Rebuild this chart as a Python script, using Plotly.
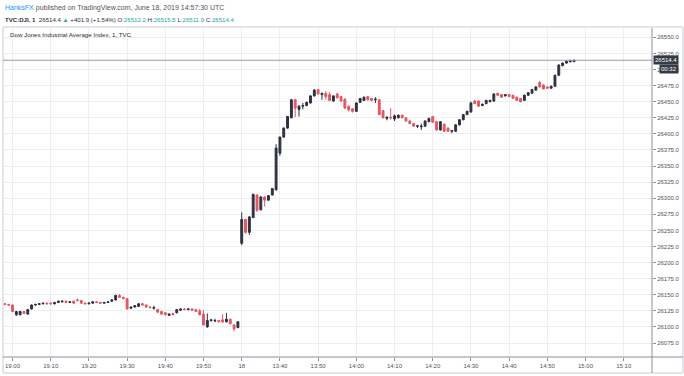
import plotly.graph_objects as go

# ---------------- data ----------------
def minute_labels(start, end):
    h, m = map(int, start.split(":"))
    eh, em = map(int, end.split(":"))
    out, t = [], h * 60 + m
    while t <= eh * 60 + em:
        out.append(f"{t // 60:02d}:{t % 60:02d}")
        t += 1
    return out

times = minute_labels("18:58", "19:59") + minute_labels("13:30", "14:57")

prev_open = [26136, 26135, 26134, 26119, 26119, 26124, 26120, 26128, 26134, 26135,
             26136, 26137, 26137, 26136, 26138, 26139, 26140, 26138, 26140, 26142,
             26141, 26137, 26136, 26137, 26139, 26138, 26137, 26138, 26140, 26142,
             26149, 26146, 26144, 26129, 26131, 26132, 26136, 26134, 26131, 26129,
             26127, 26124, 26122, 26118, 26121, 26122, 26126, 26128, 26127, 26128,
             26127, 26125, 26120, 26100, 26110, 26109, 26110, 26111, 26108, 26112,
             26103, 26099]
prev_high = [26137, 26136, 26135, 26125, 26125, 26125, 26128, 26135, 26136, 26137,
             26137, 26138, 26138, 26139, 26141, 26141, 26141, 26140, 26141, 26144,
             26142, 26138, 26138, 26140, 26140, 26139, 26139, 26140, 26143, 26150,
             26151, 26147, 26145, 26131, 26134, 26137, 26137, 26135, 26132, 26133,
             26128, 26125, 26123, 26121, 26122, 26127, 26128, 26129, 26128, 26129,
             26128, 26128, 26126, 26121, 26111, 26113, 26111, 26120, 26122, 26113,
             26104, 26109]
prev_low = [26134, 26133, 26123, 26117, 26118, 26120, 26119, 26127, 26133, 26134,
            26135, 26135, 26135, 26135, 26137, 26138, 26137, 26137, 26136, 26140,
            26136, 26135, 26135, 26136, 26137, 26136, 26136, 26138, 26139, 26141,
            26145, 26143, 26127, 26128, 26130, 26131, 26133, 26130, 26129, 26127,
            26122, 26119, 26118, 26117, 26118, 26121, 26125, 26126, 26126, 26126,
            26123, 26118, 26102, 26099, 26108, 26108, 26107, 26106, 26107, 26104,
            26093, 26098]
prev_close = [26135, 26134, 26124, 26124, 26124, 26121, 26127, 26134, 26135, 26136,
              26137, 26136, 26136, 26138, 26140, 26140, 26138, 26139, 26137, 26141,
              26137, 26136, 26137, 26139, 26138, 26137, 26138, 26139, 26142, 26149,
              26146, 26144, 26128, 26131, 26133, 26136, 26134, 26131, 26130, 26130,
              26123, 26120, 26119, 26120, 26119, 26127, 26128, 26127, 26128, 26126,
              26124, 26119, 26103, 26110, 26111, 26110, 26108, 26108, 26112, 26105,
              26097, 26108]

today_open = [26230, 26267, 26247, 26270, 26305, 26282, 26302, 26297, 26305, 26313,
              26370, 26395, 26409, 26425, 26453, 26438, 26443, 26444, 26448, 26459,
              26469, 26461, 26463, 26461, 26451, 26462, 26458, 26454, 26443, 26439,
              26435, 26449, 26452, 26458, 26455, 26453, 26453, 26436, 26424, 26426,
              26423, 26425, 26429, 26425, 26420, 26416, 26412, 26411, 26412, 26419,
              26427, 26419, 26406, 26415, 26409, 26404, 26404, 26414, 26422, 26430,
              26434, 26451, 26451, 26444, 26447, 26450, 26451, 26463, 26461, 26459,
              26461, 26460, 26457, 26455, 26452, 26460, 26463, 26468, 26480, 26476,
              26473, 26471, 26474, 26491, 26506, 26510, 26512, 26512.2]
today_high = [26278, 26268, 26272, 26307, 26306, 26303, 26303, 26305, 26316, 26384,
              26396, 26410, 26428, 26454, 26454, 26445, 26448, 26450, 26460, 26470,
              26470, 26464, 26466, 26465, 26460, 26464, 26459, 26455, 26444, 26440,
              26449, 26456, 26458, 26459, 26456, 26457, 26454, 26437, 26427, 26440,
              26430, 26430, 26430, 26426, 26421, 26417, 26414, 26416, 26421, 26425,
              26428, 26420, 26420, 26416, 26410, 26406, 26415, 26423, 26431, 26436,
              26450, 26453, 26452, 26447, 26453, 26453, 26463, 26464, 26462, 26461,
              26462, 26461, 26458, 26456, 26461, 26465, 26470, 26474, 26482, 26477,
              26474, 26475, 26492, 26508, 26511, 26514, 26515, 26515.5]
today_low = [26227, 26245, 26243, 26269, 26279, 26281, 26287, 26296, 26304, 26312,
             26366, 26394, 26408, 26424, 26426, 26427, 26438, 26443, 26447, 26458,
             26461, 26453, 26453, 26451, 26450, 26455, 26450, 26439, 26435, 26433,
             26434, 26448, 26451, 26452, 26451, 26448, 26429, 26424, 26421, 26422,
             26420, 26424, 26424, 26419, 26415, 26411, 26409, 26406, 26411, 26418,
             26417, 26405, 26405, 26403, 26403, 26401, 26403, 26413, 26421, 26429,
             26433, 26446, 26442, 26443, 26446, 26449, 26450, 26459, 26456, 26458,
             26457, 26454, 26451, 26449, 26451, 26459, 26462, 26467, 26472, 26469,
             26470, 26470, 26473, 26490, 26505, 26509, 26511, 26511.9]
today_close = [26267, 26247, 26271, 26306, 26281, 26302, 26297, 26304, 26315, 26378,
               26395, 26409, 26427, 26453, 26440, 26443, 26444, 26449, 26459, 26468,
               26462, 26463, 26458, 26452, 26459, 26456, 26451, 26440, 26437, 26435,
               26448, 26455, 26457, 26453, 26452, 26454, 26430, 26425, 26426, 26425,
               26428, 26429, 26425, 26420, 26416, 26412, 26412.5, 26412, 26420, 26424,
               26418, 26406, 26419, 26404, 26404, 26405, 26414, 26422, 26430, 26435,
               26448, 26447, 26443, 26446, 26452, 26452, 26462, 26460, 26457, 26461,
               26458, 26455, 26452, 26450, 26460, 26464, 26469, 26473, 26473, 26470,
               26471, 26474, 26491, 26507, 26510, 26513, 26514, 26514.4]

opens = prev_open + today_open
highs = prev_high + today_high
lows = prev_low + today_low
closes = prev_close + today_close

tick_times = ["19:00", "19:10", "19:20", "19:30", "19:40", "19:50", "13:30",
              "13:40", "13:50", "14:00", "14:10", "14:20", "14:30", "14:40",
              "14:50", "15:00", "15:10"]
tick_text = ["19:00", "19:10", "19:20", "19:30", "19:40", "19:50", "18",
             "13:40", "13:50", "14:00", "14:10", "14:20", "14:30", "14:40",
             "14:50", "15:00", "15:10"]
change_text = "+401.9 (+1.54%)"

# ---------------- helpers ----------------
def to_min(t):
    h, m = map(int, t.split(":"))
    return h * 60 + m

def tick_pos(t):
    if t in times:
        return times.index(t)
    return len(times) - 1 + (to_min(t) - to_min(times[-1]))

x_idx = list(range(len(times)))
tick_vals = [tick_pos(t) for t in tick_times]

W, H = 684, 376
L, R, T, B = 3, 652, 28, 357
PW, PH = R - L, B - T
def px(x):
    return (x - L) / PW
def py(y):
    return (B - y) / PH

UP = "#2e3140"
DN = "#e5575f"
GREEN = "#27a59a"
FONT = "Liberation Sans, Arial, sans-serif"

fig = go.Figure()
fig.add_trace(go.Candlestick(
    x=x_idx, open=opens, high=highs, low=lows, close=closes,
    increasing=dict(line=dict(color=UP, width=1), fillcolor=UP),
    decreasing=dict(line=dict(color=DN, width=1), fillcolor=DN),
    whiskerwidth=0, showlegend=False, hoverinfo="skip",
))

last = closes[-1]
fig.add_shape(type="line", xref="paper", yref="y", x0=0, x1=1, y0=last, y1=last,
              line=dict(color="#9a9ca3", width=1))
# frame lines
frame = "#c9cbd0"
fig.add_shape(type="rect", xref="paper", yref="paper", x0=0, x1=px(683),
              y0=py(373), y1=py(27), line=dict(color=frame, width=1), layer="below")
fig.add_shape(type="line", xref="paper", yref="paper", x0=1, x1=1, y0=py(373), y1=1,
              line=dict(color="#8e9095", width=1))
fig.add_shape(type="line", xref="paper", yref="paper", x0=0, x1=px(683), y0=0, y1=0,
              line=dict(color="#8e9095", width=1))

o, h, l, c = today_open[-1], today_high[-1], today_low[-1], today_close[-1]
g = lambda v: f"<span style='color:{GREEN}'>{v:.1f}</span>"
header2 = (f"<b>TVC:DJI, 1</b>  {c:.1f} <span style='color:{GREEN}'>▲</span> {change_text} "
           f"O:{g(o)} H:{g(h)} L:{g(l)} C:{g(c)}")

annos = [
    dict(text="<span style='color:#2196f3'>HanksFX</span> published on TradingView.com, June 18, 2019 14:57:30 UTC",
         x=px(3), y=py(8.5), font=dict(size=7, color="#50535e")),
    dict(text=header2, x=px(3), y=py(19.5), font=dict(size=6.1, color="#2a2e39")),
    dict(text="Dow Jones Industrial Average Index, 1, TVC", x=px(8), y=py(34.5),
         font=dict(size=6.2, color="#2a2e39")),
]
for a in annos:
    fig.add_annotation(xref="paper", yref="paper", xanchor="left", yanchor="middle",
                       showarrow=False, font_family=FONT, **{k: v for k, v in a.items()})

fig.add_annotation(xref="paper", yref="y", x=px(653), y=last, text=f"{last:.1f}",
                   xanchor="left", yanchor="middle", showarrow=False,
                   bgcolor="#363a45", font=dict(size=6, color="white", family=FONT),
                   borderpad=1)
fig.add_annotation(xref="paper", yref="paper", x=px(659), y=py(69), text="00:32",
                   xanchor="left", yanchor="middle", showarrow=False,
                   bgcolor="#363a45", font=dict(size=6, color="white", family=FONT),
                   borderpad=1)

fig.update_layout(
    width=W, height=H,
    margin=dict(l=L, r=W - R, t=T, b=H - B),
    paper_bgcolor="white", plot_bgcolor="white",
    font=dict(family=FONT, size=6, color="#50535e"),
    showlegend=False,
    xaxis=dict(
        range=[-0.49, 169.4], tickvals=tick_vals, ticktext=tick_text,
        showgrid=True, gridcolor="#eceef2", gridwidth=1, zeroline=False,
        ticks="outside", ticklen=3, tickcolor="#8e9095",
        tickfont=dict(size=6, color="#50535e"),
        rangeslider=dict(visible=False), showline=False, fixedrange=True,
    ),
    yaxis=dict(
        side="right", range=[26053.3, 26564.5], dtick=25, tick0=26000,
        tickformat=".1f", showgrid=True, gridcolor="#eceef2", gridwidth=1,
        zeroline=False, ticks="outside", ticklen=3, tickcolor="#8e9095",
        tickfont=dict(size=6, color="#50535e"), showline=False,
    ),
)

fig.write_html("out.html", config={"displayModeBar": False},
               post_script="document.body.style.margin='0';document.body.style.padding='0';")
